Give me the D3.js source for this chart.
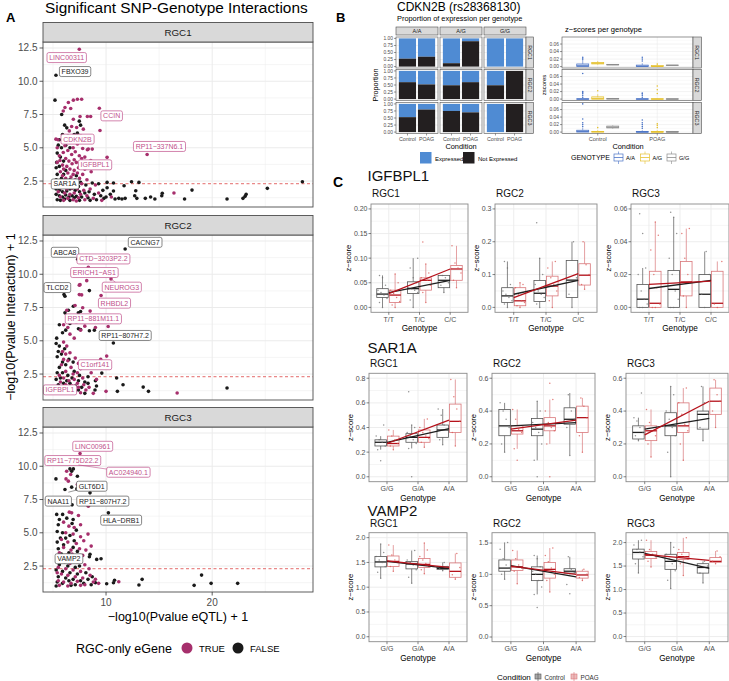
<!DOCTYPE html>
<html><head><meta charset="utf-8">
<script src="https://cdn.jsdelivr.net/npm/d3@7"></script>
<style>body{margin:0;background:#fff}svg{display:block}</style>
</head><body><svg id="fig" width="729" height="681"></svg>
<script>
// ================= DATA =================
// ---- Panel A ----
const aCells = ["RGC1", "RGC2", "RGC3"];
const aXTicks = [10, 20];
const aYTicks = [2.5, 5.0, 7.5, 10.0, 12.5];
const aThreshold = 2.3;
const rgc1True = [[7.48,12.4],[7.3,8.65],[7.7,8.65],[6.45,8.4],[6.92,8.58],[6.13,8.03],[6.67,7.95],[5.97,7.77],[9.37,7.97],[8.24,7.35],[8.55,7.35],[7.55,7.35],[6.92,7.15],[6.76,6.6],[7.23,6.53],[7.86,6.4],[6.54,6.27],[9.43,6.3],[7.61,5.9],[8.2,5.7],[5.28,5.65],[5.47,5.6],[6.86,5.65],[8.18,5.65],[7.3,5.28],[6.13,5.15],[7.8,4.95],[8.33,4.9],[8.24,4.85],[5.97,4.65],[6.76,4.5],[7.48,4.4],[8.0,4.3],[10.1,4.28],[13.87,4.5],[8.56,4.05],[5.66,4.05],[6.2,4.2],[6.5,4.0],[7.0,4.1],[7.2,3.9],[6.8,3.8],[5.9,3.7],[6.3,3.6],[7.6,3.7],[6.0,3.4],[6.6,3.4],[7.0,3.3],[7.4,3.5],[8.0,3.4],[5.7,3.2],[6.4,3.1],[6.9,3.0],[7.3,3.1],[7.8,3.0],[8.6,3.2],[5.9,2.9],[6.2,2.7],[6.7,2.8],[7.1,2.6],[7.5,2.7],[8.2,2.6],[5.6,2.5],[6.0,2.4],[6.5,2.3],[6.9,2.2],[7.7,2.3],[9.0,2.2],[5.8,2.0],[6.3,1.9],[6.8,1.95],[7.3,1.9],[7.9,1.8],[8.5,1.9],[5.5,1.7],[6.1,1.6],[6.6,1.5],[7.0,1.6],[7.6,1.5],[8.2,1.4],[9.3,1.6],[5.7,1.3],[6.4,1.2],[6.9,1.1],[7.4,1.25],[8.0,1.1],[8.8,1.2],[10.5,1.3],[16.4,1.6],[6.0,1.05],[7.2,1.0],[9.6,1.05],[5.4,3.9],[5.6,4.4],[5.4,5.0],[6.1,5.5],[7.1,4.7],[7.7,4.2],[6.4,4.8],[6.9,5.0],[8.7,4.9]];
const rgc1False = [[5.28,10.45],[5.19,8.58],[5.82,7.5],[7.48,7.0],[7.6,6.7],[6.1,6.7],[6.3,6.5],[5.6,5.6],[5.9,6.0],[6.4,5.9],[7.0,6.0],[7.3,6.1],[5.5,5.2],[5.8,5.0],[6.2,5.2],[6.6,5.0],[7.5,5.5],[5.4,4.6],[5.7,4.3],[6.0,4.0],[5.35,3.9],[5.3,3.5],[5.6,3.6],[6.2,3.3],[5.4,3.0],[5.8,2.7],[6.0,3.0],[6.6,2.6],[7.2,2.9],[7.6,2.4],[5.3,2.6],[5.5,2.2],[6.1,2.1],[6.7,2.1],[7.4,2.1],[8.1,2.2],[8.7,2.35],[9.3,2.3],[5.3,1.9],[5.6,1.8],[5.9,1.7],[6.3,1.75],[6.6,1.9],[7.1,1.8],[7.5,1.7],[8.0,1.6],[8.4,1.7],[8.9,1.5],[9.5,1.4],[5.3,1.5],[5.6,1.4],[5.9,1.3],[6.2,1.45],[6.5,1.3],[6.8,1.4],[7.2,1.35],[7.7,1.3],[8.3,1.25],[5.4,1.1],[5.7,1.05],[6.1,1.15],[6.6,1.05],[7.0,1.25],[7.5,1.05],[8.5,1.05],[9.1,1.1],[9.8,1.2],[10.1,2.4],[10.7,2.35],[12.4,2.45],[13.1,2.4],[28.5,2.45],[25.2,1.95],[23.2,1.5],[23.1,1.35],[22.9,1.2],[21.4,1.15],[18.1,1.82],[17.4,1.15],[15.3,1.58],[15.25,1.4],[14.6,1.15],[14.2,1.3],[13.7,1.2],[12.8,1.77],[12.7,1.4],[12.9,1.2],[11.7,2.15],[11.8,1.2],[11.5,1.15],[11.2,1.2],[10.85,1.15],[10.7,1.75],[10.4,1.5],[10.1,2.0],[10.0,1.3],[9.7,1.8]];
const rgc2True = [[8.33,10.53],[10.47,9.65],[8.18,9.52],[7.48,9.18],[7.55,9.22],[9.53,8.4],[7.48,8.47],[7.7,8.45],[7.08,7.65],[7.8,7.48],[8.5,7.23],[6.3,7.3],[10.2,6.07],[9.0,6.0],[8.0,6.1],[6.0,6.2],[6.4,6.0],[7.2,6.4],[7.6,5.8],[6.6,5.5],[7.0,5.2],[10.06,3.85],[9.5,3.6],[6.0,4.9],[6.3,4.6],[5.9,4.2],[6.2,4.0],[6.6,4.1],[7.1,3.7],[6.4,3.5],[7.4,3.3],[5.8,3.2],[6.0,3.6],[6.7,3.0],[7.6,2.9],[8.2,3.1],[6.2,2.7],[6.9,2.5],[7.3,2.6],[5.6,2.4],[6.0,2.2],[6.5,2.0],[7.0,2.1],[7.8,2.2],[8.6,2.6],[5.7,1.9],[6.2,1.7],[6.8,1.6],[7.3,1.8],[7.9,1.7],[8.4,1.5],[9.1,2.1],[5.5,1.4],[6.0,1.3],[6.5,1.2],[7.1,1.25],[7.6,1.1],[8.1,1.3],[8.8,1.05],[10.0,1.2],[16.7,1.08],[5.66,1.5],[6.9,1.45],[7.4,1.5],[9.1,3.2]];
const rgc2False = [[11.8,11.9],[7.33,11.13],[8.43,8.77],[6.04,8.47],[6.13,8.35],[6.92,7.6],[6.45,7.3],[6.13,7.1],[6.76,6.85],[7.39,7.1],[7.6,7.2],[5.6,6.2],[6.6,6.3],[7.4,5.9],[7.6,5.85],[8.43,5.75],[8.9,5.8],[6.2,5.8],[5.9,5.6],[10.69,4.83],[5.3,4.8],[5.6,4.6],[5.5,4.2],[5.8,4.0],[6.1,4.4],[5.4,3.8],[5.9,3.4],[6.5,3.6],[5.6,3.0],[6.2,3.2],[6.9,3.4],[5.4,2.6],[5.9,2.6],[6.4,2.4],[7.0,2.7],[7.5,2.4],[8.3,2.3],[9.6,2.57],[5.3,2.1],[5.7,2.2],[6.3,2.0],[6.8,2.2],[7.4,2.0],[8.0,1.9],[5.5,1.7],[6.0,1.8],[6.6,1.8],[7.1,1.6],[7.7,1.5],[8.3,1.8],[8.96,1.3],[9.1,1.6],[5.4,1.2],[5.8,1.1],[6.3,1.5],[6.8,1.1],[7.4,1.3],[8.0,1.05],[11.0,2.2],[11.6,1.7],[13.5,1.52],[14.0,1.2],[11.07,1.2],[21.4,1.45],[9.0,2.0],[5.35,5.2]];
const rgc3True = [[7.55,10.95],[6.29,9.63],[6.67,9.38],[6.23,9.05],[6.45,8.88],[7.3,8.63],[8.49,7.2],[8.33,7.0],[6.54,6.55],[6.76,6.5],[7.4,6.3],[6.0,5.8],[6.5,5.5],[7.0,5.4],[7.6,5.6],[6.2,5.0],[6.9,4.9],[7.6,4.7],[8.3,4.9],[5.8,4.5],[6.4,4.3],[7.2,4.2],[7.9,4.4],[8.6,4.0],[6.0,3.9],[6.7,3.7],[7.5,3.8],[8.1,3.7],[5.6,3.5],[6.3,3.3],[7.0,3.1],[7.8,3.3],[5.9,2.9],[6.6,2.7],[7.3,2.8],[8.0,2.6],[5.5,2.4],[6.2,2.3],[6.9,2.2],[7.6,2.1],[8.4,2.3],[5.8,1.9],[6.4,1.8],[7.1,1.7],[7.8,1.6],[8.5,1.8],[5.5,1.4],[6.0,1.3],[6.7,1.2],[7.3,1.35],[8.0,1.1],[8.8,1.3],[9.3,1.2],[11.2,1.32],[5.6,1.05],[6.4,1.0],[7.6,1.05],[5.4,2.0],[6.8,3.4],[9.0,1.5]];
const rgc3False = [[6.6,9.8],[6.76,9.63],[6.92,9.8],[7.3,9.25],[5.28,9.05],[6.13,8.25],[6.76,8.43],[8.49,8.0],[7.25,8.3],[6.8,7.1],[10.22,6.5],[5.91,6.38],[5.35,6.38],[5.6,6.0],[6.3,6.1],[6.9,6.0],[5.5,5.6],[6.8,5.7],[7.2,5.2],[5.4,5.1],[5.9,5.0],[6.6,4.8],[5.7,4.6],[6.2,4.6],[7.0,4.4],[5.4,4.3],[6.0,4.1],[6.9,3.9],[5.5,3.8],[5.8,3.4],[6.5,3.5],[7.3,3.6],[8.43,3.2],[8.49,3.38],[9.12,3.0],[9.53,3.05],[5.4,3.0],[6.1,2.8],[6.8,2.9],[7.5,2.5],[5.6,2.6],[6.4,2.5],[7.1,2.4],[8.1,2.0],[5.3,2.2],[5.9,2.1],[6.6,2.0],[7.3,1.9],[8.7,1.7],[5.5,1.7],[6.2,1.6],[6.9,1.5],[7.6,1.4],[8.3,1.5],[5.4,1.3],[5.9,1.2],[6.5,1.4],[7.1,1.1],[7.9,1.2],[8.6,1.1],[9.0,1.25],[10.06,1.17],[10.8,1.43],[10.7,1.25],[13.4,1.5],[13.1,1.08],[18.3,1.05],[19.0,1.82],[19.9,1.2],[22.4,1.2],[5.3,1.0],[6.7,1.05]];
// labels: [text, labelX, labelY, pointX|null, pointY|null, rgcOnly]
const rgc1Labels = [["LINC00311",6.29,11.78,null,null,true],["FBXO39",7.08,10.73,null,null,false],["CCIN",10.53,7.4,null,null,true],["CDKN2B",7.3,5.65,null,null,true],["RP11\u2212337N6.1",15.03,5.1,null,null,true],["IGFBPL1",8.96,3.72,null,null,true],["SAR1A",6.13,2.28,null,null,false]];
const rgc2Labels = [["CACNG7",13.68,12.4,null,null,false],["ABCA8",6.13,11.65,null,null,false],["CTD\u22123203P2.2",9.75,11.15,null,null,true],["ERICH1\u2212AS1",8.9,10.13,8.33,10.6,true],["NEUROG3",11.48,9.03,10.47,9.65,true],["TLCD2",5.41,9.0,null,null,false],["RHBDL2",10.79,7.83,null,null,true],["RP11\u2212881M11.1",8.8,6.65,null,null,true],["RP11\u2212807H7.2",11.8,5.4,null,null,false],["C1orf141",8.96,3.2,null,null,true],["IGFBPL1",5.66,1.31,null,null,true]];
const rgc3Labels = [["LINC00961",8.74,11.5,null,null,true],["RP11\u2212775D22.2",6.86,10.43,null,null,true],["AC024940.1",12.1,9.55,7.4,10.1,true],["GLT6D1",8.65,8.5,6.45,8.05,false],["NAA11",5.5,7.38,null,null,false],["RP11\u2212807H7.2",9.69,7.38,null,null,false],["HLA\u2212DRB1",11.42,5.95,null,null,false],["VAMP2",6.5,3.05,null,null,false]];

// ---- Panel B ----
const bGenotypes = ["A/A", "A/G", "G/G"];
const bConditions = ["Control", "POAG"];
const bCells = ["RGC1", "RGC2", "RGC3"];
// proportion "Not Expressed" [cell][genotype][condition]
const bNotExpressed = [
  [[0.28, 0.35], [0.12, 0.90], [0.0, 0.0]],
  [[0.60, 0.52], [0.49, 0.60], [0.49, 1.0]],
  [[0.53, 0.80], [0.75, 0.70], [0.0, 1.0]]
];
const bPropTicks = [0, 0.25, 0.5, 0.75, 1.0];
const bZTicks = [0, 0.02, 0.04, 0.06];
// z-score boxes [cell][condition][genotype] = [lo, q1, med, q3, hi]
const bZBoxes = [
  [[[0,0,0.002,0.007,0.015],[0.005,0.007,0.009,0.011,0.015],[0.004,0.0045,0.005,0.006,0.0065]],
   [[0,0,0.001,0.004,0.009],[0,0,0.0005,0.003,0.006],[0.003,0.003,0.0035,0.004,0.004]]],
  [[[0,0,0,0.001,0.002],[0,0,0.001,0.006,0.013],[0,0,0.001,0.002,0.003]],
   [[0,0,0,0.001,0.002],[0,0,0,0.001,0.002],[0,0,0,0.001,0.001]]],
  [[[0,0,0.002,0.005,0.012],[0,0,0.001,0.002,0.005],[0.009,0.011,0.013,0.016,0.018]],
   [[0,0,0,0.002,0.005],[0,0,0,0.002,0.005],[0,0,0,0.002,0.003]]]
];
const bZOutliers = [
  [[[0.018,0.022,0.025],[],[]], [[0.015,0.02,0.025],[0.007],[]]],
  [[[0.005,0.01,0.015,0.018,0.02,0.068],[0.022],[]], [[0.005,0.01,0.014,0.016],[0.015,0.025,0.035],[]]],
  [[[0.015,0.02,0.025,0.035,0.075],[0.012],[]], [[0.01,0.015,0.02,0.025,0.032],[0.012,0.018,0.022],[]]]
];

// ---- Panel C ----
const cGenes = ["IGFBPL1", "SAR1A", "VAMP2"];
const cCells = ["RGC1", "RGC2", "RGC3"];
const cGenotypes = [["T/T","T/C","C/C"], ["G/G","G/A","A/A"], ["G/G","G/A","A/A"]];
const cYTicks = [
  [[0,0.05,0.10,0.15,0.20],[0,0.1,0.2,0.3],[0,0.02,0.04,0.06]],
  [[0,0.2,0.4,0.6,0.8],[0,0.2,0.4,0.6],[0,0.2,0.4,0.6]],
  [[0,0.5,1.0,1.5,2.0],[0,0.5,1.0,1.5],[0,0.5,1.0,1.5,2.0]]
];
const cYFormat = [[".2f",".1f",".2f"],[".1f",".1f",".1f"],[".1f",".1f",".1f"]];
// box stats [cell][genotype] = [lo, q1, med, q3, hi]
const igfbpl1Control = [
  [[0,0.02,0.027,0.038,0.065],[0,0.028,0.038,0.052,0.10],[0.03,0.04,0.055,0.065,0.065]],
  [[0,0.015,0.035,0.06,0.14],[0,0.018,0.043,0.082,0.15],[0,0.03,0.083,0.143,0.2]],
  [[0,0,0.005,0.014,0.024],[0,0,0.011,0.0225,0.055],[0,0,0.008,0.02,0.034]]
];
const igfbpl1POAG = [
  [[0,0.01,0.025,0.035,0.068],[0.01,0.035,0.055,0.06,0.088],[0.04,0.055,0.078,0.085,0.125]],
  [[0,0.005,0.02,0.06,0.075],[0,0.035,0.065,0.095,0.14],[0.055,0.068,0.098,0.133,0.2]],
  [[0,0,0.0025,0.022,0.052],[0,0.007,0.0155,0.028,0.048],[0,0,0.0025,0.022,0.028]]
];
const sar1aControl = [
  [[0.22,0.25,0.28,0.30,0.33],[0.23,0.28,0.32,0.35,0.42],[0.26,0.32,0.38,0.42,0.55]],
  [[0.15,0.25,0.31,0.41,0.45],[0.1,0.25,0.29,0.355,0.46],[0.13,0.32,0.35,0.42,0.51]],
  [[0.22,0.23,0.27,0.31,0.36],[0.0,0.25,0.31,0.39,0.55],[0.22,0.29,0.38,0.40,0.55]]
];
const sar1aPOAG = [
  [[0.22,0.25,0.27,0.33,0.38],[0.24,0.28,0.32,0.38,0.47],[0.25,0.36,0.45,0.59,0.79]],
  [[0.17,0.26,0.28,0.31,0.41],[0.2,0.28,0.31,0.36,0.47],[0.15,0.27,0.36,0.43,0.48]],
  [[0.12,0.22,0.28,0.31,0.41],[0.1,0.27,0.31,0.45,0.54],[0.30,0.38,0.46,0.54,0.59]]
];
const vamp2Control = [
  [[1.18,1.41,1.51,1.62,1.87],[1.08,1.37,1.47,1.52,1.74],[1.33,1.36,1.38,1.42,1.5]],
  [[0.92,1.05,1.1,1.23,1.51],[0.68,0.9,1.0,1.12,1.3],[1.0,1.02,1.05,1.09,1.28]],
  [[1.35,1.65,1.79,1.86,2.05],[1.02,1.43,1.6,1.75,2.0],[1.14,1.35,1.47,1.55,1.6]]
];
const vamp2POAG = [
  [[1.32,1.42,1.52,1.63,1.85],[1.27,1.4,1.46,1.58,1.89],[1.16,1.2,1.32,1.49,1.68]],
  [[0.85,1.06,1.12,1.23,1.38],[0.72,0.94,1.08,1.19,1.42],[0.9,0.94,0.99,1.05,1.08]],
  [[1.48,1.66,1.73,1.81,2.05],[1.3,1.64,1.7,1.79,2.1],[1.55,1.58,1.6,1.68,1.82]]
];
// individual cells [cell][genotype] = values
const igfbpl1ControlPts = [
  [[0,0.01,0.018,0.025,0.03,0.035,0.045,0.06,0.065],[0,0.015,0.03,0.035,0.038,0.04,0.05,0.06,0.08,0.1],[0.03,0.045,0.05,0.06,0.065]],
  [[0,0.01,0.02,0.03,0.04,0.05,0.07,0.12,0.14],[0,0.01,0.03,0.04,0.05,0.07,0.1,0.15,0.258],[0,0.04,0.09,0.2]],
  [[0,0,0.002,0.005,0.01,0.02,0.024,0.045,0.057],[0,0,0.005,0.01,0.02,0.03,0.045,0.055,0.058],[0,0.008,0.02,0.034]]
];
const igfbpl1POAGPts = [
  [[0,0.005,0.012,0.02,0.028,0.035,0.05,0.068],[0.01,0.03,0.045,0.055,0.057,0.06,0.07,0.088,0.133],[0.04,0.055,0.07,0.08,0.09,0.125]],
  [[0,0.005,0.015,0.02,0.04,0.06,0.07,0.075],[0,0.02,0.05,0.07,0.09,0.12,0.14],[0.055,0.07,0.1,0.13,0.2]],
  [[0,0,0.002,0.012,0.02,0.035,0.044,0.052],[0,0.007,0.015,0.02,0.03,0.045,0.048],[0,0.002,0.028]]
];
const sar1aControlPts = [
  [[0.13,0.22,0.25,0.28,0.3,0.33,0.42],[0,0.23,0.27,0.3,0.33,0.36,0.4,0.42,0.69],[0.26,0.3,0.38,0.42,0.5,0.55]],
  [[0.15,0.2,0.3,0.35,0.4,0.45],[0,0.1,0.2,0.27,0.3,0.33,0.4,0.46],[0.13,0.3,0.35,0.4,0.5]],
  [[0.22,0.25,0.27,0.3,0.34,0.36,0.51],[0,0.15,0.25,0.3,0.35,0.4,0.5,0.55],[0.22,0.3,0.38,0.45,0.55]]
];
const sar1aPOAGPts = [
  [[0.22,0.25,0.27,0.3,0.33,0.38],[0.24,0.28,0.31,0.33,0.36,0.4,0.47],[0.25,0.36,0.45,0.55,0.65,0.79]],
  [[0.1,0.17,0.27,0.29,0.35,0.41],[0,0.2,0.28,0.3,0.33,0.4,0.47,0.57],[0.15,0.25,0.36,0.43,0.48]],
  [[0.12,0.2,0.25,0.28,0.33,0.41],[0.1,0.2,0.28,0.32,0.38,0.45,0.54],[0.3,0.4,0.46,0.5,0.59]]
];
const vamp2ControlPts = [
  [[1.18,1.3,1.42,1.5,1.55,1.62,1.7,1.87],[1.08,1.2,1.35,1.45,1.5,1.55,1.74],[1.33,1.38,1.42,1.5]],
  [[0.92,1.0,1.1,1.15,1.25,1.4,1.51],[0.47,0.68,0.8,0.9,1.0,1.05,1.12,1.25,1.3],[0.69,0.84,1.03,1.08,1.28]],
  [[1.35,1.55,1.7,1.8,1.85,1.95,2.05],[1.02,1.2,1.4,1.55,1.65,1.75,1.9,2.0],[1.14,1.35,1.5,1.6]]
];
const vamp2POAGPts = [
  [[1.32,1.42,1.5,1.55,1.65,1.85],[1.27,1.35,1.42,1.48,1.55,1.62,1.75,1.89],[1.16,1.25,1.4,1.68]],
  [[0.85,1.05,1.1,1.15,1.25,1.38],[0.72,0.9,1.0,1.1,1.2,1.3,1.42],[0.9,0.95,1.0,1.08]],
  [[1.48,1.6,1.7,1.75,1.85,2.05],[1.3,1.55,1.65,1.7,1.75,1.85,2.1],[1.55,1.6,1.7,1.82]]
];
// linear fits [cell] = [control@first, control@last, POAG@first, POAG@last]
const igfbpl1Fits = [[0.03,0.055,0.028,0.078],[0.04,0.082,0.03,0.103],[0.0115,0.0165,0.014,0.016]];
const sar1aFits = [[0.28,0.39,0.27,0.46],[0.31,0.33,0.29,0.345],[0.29,0.355,0.255,0.46]];
const vamp2Fits = [[1.52,1.38,1.53,1.40],[1.14,0.96,1.13,1.0],[1.77,1.45,1.75,1.62]];

// ================= DRAWING =================
const F = "'Liberation Sans', Arial, Helvetica, sans-serif";
const svg = d3.select("#fig");
svg.append("rect").attr("width",729).attr("height",681).attr("fill","#fff");
function txt(g, x, y, s, size, o = {}) {
  const t = g.append("text").attr("x", x).attr("y", y).text(s)
    .attr("font-size", size).attr("font-family", F).attr("fill", o.fill || "#000");
  if (o.anchor) t.attr("text-anchor", o.anchor);
  if (o.weight) t.attr("font-weight", o.weight);
  if (o.rotate != null) t.attr("transform", `rotate(${o.rotate},${x},${y})`);
  return t;
}
function hline(g, x1, x2, y, c, w, dash) {
  const l = g.append("line").attr("x1", x1).attr("x2", x2).attr("y1", y).attr("y2", y).attr("stroke", c).attr("stroke-width", w);
  if (dash) l.attr("stroke-dasharray", dash);
  return l;
}
function vline(g, x, y1, y2, c, w) {
  return g.append("line").attr("x1", x).attr("x2", x).attr("y1", y1).attr("y2", y2).attr("stroke", c).attr("stroke-width", w);
}
const GRID = "#ebebeb", BORDER = "#4d4d4d", TICKC = "#4d4d4d";
const PINK = "#a62f6c", PINKL = "#c0508b", DARK = "#1a1a1a";

// ---------- Panel A ----------
txt(svg, 6, 22, "A", 13, { weight: "bold" });
txt(svg, 45, 12.5, "Significant SNP-Genotype Interactions", 15.4);
const aX = d3.scaleLinear().domain([4.06, 29.5]).range([43, 313]);
const aTops = [42, 235, 427], aH = 165;
const aTrue = [rgc1True, rgc2True, rgc3True], aFalse = [rgc1False, rgc2False, rgc3False];
const aLabels = [rgc1Labels, rgc2Labels, rgc3Labels];
aCells.forEach((cell, i) => {
  const top = aTops[i], bot = top + aH;
  const y = d3.scaleLinear().domain([0.55, 12.95]).range([bot, top]);
  const g = svg.append("g");
  const minorY = [1.25, 3.75, 6.25, 8.75, 11.25], minorX = [5, 15, 25];
  minorY.forEach(v => hline(g, 43, 313, y(v), GRID, 0.5));
  minorX.forEach(v => vline(g, aX(v), top, bot, GRID, 0.5));
  aYTicks.forEach(v => hline(g, 43, 313, y(v), GRID, 1));
  aXTicks.forEach(v => vline(g, aX(v), top, bot, GRID, 1));
  hline(g, 43, 313, y(aThreshold), "#e05a5a", 0.9, "3,2.5");
  const clip = "clipA" + i;
  g.append("clipPath").attr("id", clip).append("rect").attr("x", 43).attr("y", top).attr("width", 270).attr("height", aH);
  const pg = g.append("g").attr("clip-path", `url(#${clip})`);
  pg.selectAll("circle.f").data(aFalse[i]).enter().append("circle")
    .attr("cx", d => aX(d[0])).attr("cy", d => y(d[1])).attr("r", 1.8).attr("fill", DARK);
  pg.selectAll("circle.t").data(aTrue[i]).enter().append("circle")
    .attr("cx", d => aX(d[0])).attr("cy", d => y(d[1])).attr("r", 1.8).attr("fill", PINK);
  aLabels[i].forEach(L => {
    const [s, lx, ly, px, py, tr] = L;
    const col = tr ? PINKL : "#222", bcol = tr ? PINKL : "#555";
    if (px != null) g.append("line").attr("x1", aX(px)).attr("y1", y(py)).attr("x2", aX(lx)).attr("y2", y(ly)).attr("stroke", bcol).attr("stroke-width", 0.6);
    const lg = g.append("g");
    const t = txt(lg, aX(lx), y(ly) + 2.5, s, 7, { anchor: "middle", fill: col });
    const bb = t.node().getBBox();
    lg.insert("rect", "text").attr("x", bb.x - 2.2).attr("y", y(ly) - 5).attr("width", bb.width + 4.4).attr("height", 10)
      .attr("rx", 1.8).attr("fill", "#fff").attr("stroke", bcol).attr("stroke-width", 0.7);
  });
  g.append("rect").attr("x", 43).attr("y", top).attr("width", 270).attr("height", aH).attr("fill", "none").attr("stroke", BORDER).attr("stroke-width", 0.9);
  g.append("rect").attr("x", 43).attr("y", top - 19.5).attr("width", 270).attr("height", 19.5).attr("fill", "#d9d9d9").attr("stroke", BORDER).attr("stroke-width", 0.9);
  txt(g, 178, top - 6, cell, 9.8, { anchor: "middle", fill: "#1a1a1a" });
  aYTicks.forEach(v => {
    hline(g, 39.5, 43, y(v), "#333", 0.8);
    txt(g, 37.5, y(v) + 3.5, d3.format(".1f")(v), 10, { anchor: "end", fill: TICKC });
  });
  if (i === 2) {
    aXTicks.forEach(v => {
      vline(g, aX(v), bot, bot + 3.5, "#333", 0.8);
      txt(g, aX(v), bot + 14, String(v), 10, { anchor: "middle", fill: TICKC });
    });
  }
});
txt(svg, 178, 621, "\u2212log10(Pvalue eQTL) + 1", 12.5, { anchor: "middle" });
svg.append("text").attr("transform", "translate(15,317) rotate(-90)").attr("text-anchor", "middle")
  .attr("font-family", F).attr("font-size", 12.5).text("\u2212log10(Pvalue Interaction) + 1");
txt(svg, 76, 652.5, "RGC-only eGene", 12.5);
svg.append("circle").attr("cx", 187).attr("cy", 648).attr("r", 5.5).attr("fill", PINK);
txt(svg, 199, 651.5, "TRUE", 9.5);
svg.append("circle").attr("cx", 238).attr("cy", 648).attr("r", 5.5).attr("fill", DARK);
txt(svg, 250, 651.5, "FALSE", 9.5);

// ---------- Panel B ----------
txt(svg, 336, 22, "B", 13, { weight: "bold" });
txt(svg, 397, 10.5, "CDKN2B (rs28368130)", 12);
txt(svg, 397, 20.5, "Proportion of expression per genotype", 7.4);
txt(svg, 565, 32, "z\u2212scores per genotype", 7.6);
const BLUE = "#4f8bd3", BLK = "#231f20";
const bCols = [396, 440, 484], bColW = 42, bRowTops = [37, 69.5, 102.5], bRowH = 31;
bCells.forEach((cell, r) => {
  const top = bRowTops[r], bot = top + bRowH;
  const y = d3.scaleLinear().domain([-0.05, 1.05]).range([bot, top]);
  bGenotypes.forEach((gt, c) => {
    const g = svg.append("g");
    const x = d3.scalePoint().domain(bConditions).range([bCols[c], bCols[c] + bColW]).padding(0.6);
    const bw = x.step() * 0.9;
    bPropTicks.forEach(v => hline(g, bCols[c], bCols[c] + bColW, y(v), GRID, 0.6));
    bConditions.forEach((cond, k) => {
      const ne = bNotExpressed[r][c][k];
      g.append("rect").attr("x", x(cond) - bw / 2).attr("width", bw).attr("y", y(1)).attr("height", y(ne) - y(1)).attr("fill", BLUE);
      if (ne > 0) g.append("rect").attr("x", x(cond) - bw / 2).attr("width", bw).attr("y", y(ne)).attr("height", y(0) - y(ne)).attr("fill", BLK);
    });
    g.append("rect").attr("x", bCols[c]).attr("y", top).attr("width", bColW).attr("height", bRowH).attr("fill", "none").attr("stroke", BORDER).attr("stroke-width", 0.6);
    if (r === 0) {
      g.append("rect").attr("x", bCols[c]).attr("y", 27).attr("width", bColW).attr("height", 8).attr("fill", "#d9d9d9").attr("stroke", BORDER).attr("stroke-width", 0.6);
      txt(g, bCols[c] + bColW / 2, 33.2, gt, 5.5, { anchor: "middle", fill: "#1a1a1a" });
    }
    if (c === 2) {
      g.append("rect").attr("x", bCols[c] + bColW).attr("y", top).attr("width", 7.5).attr("height", bRowH).attr("fill", "#d9d9d9").attr("stroke", BORDER).attr("stroke-width", 0.6);
      txt(g, bCols[c] + bColW + 2, top + bRowH / 2, cell, 5.3, { anchor: "middle", rotate: 90, fill: "#1a1a1a" });
    }
    if (c === 0) bPropTicks.forEach(v => {
      hline(g, bCols[c] - 2, bCols[c], y(v), "#333", 0.5);
      txt(g, bCols[c] - 3, y(v) + 1.7, d3.format(".2f")(v), 4.9, { anchor: "end", fill: TICKC });
    });
    if (r === 2) bConditions.forEach(cond => {
      vline(g, x(cond), bot, bot + 2, "#333", 0.5);
      txt(g, x(cond), bot + 7.5, cond, 5.3, { anchor: "middle", fill: TICKC });
    });
  });
});
txt(svg, 461, 148.5, "Condition", 7.4, { anchor: "middle" });
svg.append("text").attr("transform", "translate(377.5,85) rotate(-90)").attr("text-anchor", "middle").attr("font-family", F).attr("font-size", 7.2).text("Proportion");
svg.append("rect").attr("x", 420).attr("y", 152).attr("width", 11.5).attr("height", 11.5).attr("fill", BLUE);
txt(svg, 435, 160.5, "Expressed", 6);
svg.append("rect").attr("x", 463).attr("y", 152).attr("width", 11.5).attr("height", 11.5).attr("fill", BLK);
txt(svg, 478, 160.5, "Not Expressed", 6);

// z-score panel
const GCOL = ["#4b74c6", "#e5c12f", "#8c8c8c"];
const zL = 562, zR = 693;
const zx = d3.scalePoint().domain(bConditions).range([zL, zR]).padding(0.6);
const dodge = [-15, 0, 15], zbw = 12;
bCells.forEach((cell, r) => {
  const top = bRowTops[r], bot = top + bRowH;
  const y = d3.scaleLinear().domain([-0.00375, 0.07875]).range([bot, top]);
  const g = svg.append("g");
  [0.01, 0.03, 0.05, 0.07].forEach(v => hline(g, zL, zR, y(v), GRID, 0.3));
  bZTicks.forEach(v => hline(g, zL, zR, y(v), GRID, 0.6));
  bConditions.forEach(cond => vline(g, zx(cond), top, bot, GRID, 0.6));
  bConditions.forEach((cond, k) => {
    bGenotypes.forEach((gt, j) => {
      const [lo, q1, md, q3, hi] = bZBoxes[r][k][j];
      const cx = zx(cond) + dodge[j], col = GCOL[j];
      vline(g, cx, y(hi), y(q3), col, 0.6);
      vline(g, cx, y(q1), y(lo), col, 0.6);
      g.append("rect").attr("x", cx - zbw / 2).attr("width", zbw).attr("y", y(q3)).attr("height", Math.max(0.5, y(q1) - y(q3)))
        .attr("fill", col).attr("fill-opacity", 0.25).attr("stroke", col).attr("stroke-width", 0.7);
      hline(g, cx - zbw / 2, cx + zbw / 2, y(md), col, 1.1);
      bZOutliers[r][k][j].forEach(v => g.append("circle").attr("cx", cx).attr("cy", y(v)).attr("r", 0.8).attr("fill", col));
    });
  });
  g.append("rect").attr("x", zL).attr("y", top).attr("width", zR - zL).attr("height", bRowH).attr("fill", "none").attr("stroke", BORDER).attr("stroke-width", 0.6);
  g.append("rect").attr("x", zR).attr("y", top).attr("width", 8.5).attr("height", bRowH).attr("fill", "#d9d9d9").attr("stroke", BORDER).attr("stroke-width", 0.6);
  txt(g, zR + 2.4, top + bRowH / 2, cell, 5.3, { anchor: "middle", rotate: 90, fill: "#1a1a1a" });
  bZTicks.forEach(v => {
    hline(g, zL - 2, zL, y(v), "#333", 0.5);
    txt(g, zL - 3, y(v) + 1.7, d3.format(".2f")(v), 4.9, { anchor: "end", fill: TICKC });
  });
  if (r === 2) bConditions.forEach(cond => {
    vline(g, zx(cond), bot, bot + 2, "#333", 0.5);
    txt(g, zx(cond), bot + 7.5, cond, 5.6, { anchor: "middle", fill: TICKC });
  });
});
txt(svg, 628, 148.5, "Condition", 7.4, { anchor: "middle" });
svg.append("text").attr("transform", "translate(546,85) rotate(-90)").attr("text-anchor", "middle").attr("font-family", F).attr("font-size", 6).text("zscores");
txt(svg, 571, 160, "GENOTYPE", 7);
bGenotypes.forEach((gt, j) => {
  const lx = 614 + j * 26.5, col = GCOL[j];
  vline(svg, lx + 4.5, 151.5, 164, col, 0.6);
  svg.append("rect").attr("x", lx).attr("y", 154).attr("width", 9).attr("height", 7).attr("fill", "#fff").attr("stroke", col).attr("stroke-width", 0.7);
  hline(svg, lx, lx + 9, 157.5, col, 0.8);
  txt(svg, lx + 12, 160, gt, 5.6);
});

// ---------- Panel C ----------
txt(svg, 333, 187, "C", 14, { weight: "bold" });
const cRowY = [[204, 312.3], [373.3, 481.7], [532.7, 641.7]];
const cColX = [[[371, 468], [495, 597], [631, 729]], [[369, 467], [492, 595], [626, 728]], [[369, 467], [492, 595], [626, 728]]];
const cYDomain = [[[-0.01, 0.21], [-0.015, 0.315], [-0.003, 0.063]], [[-0.04, 0.84], [-0.03, 0.63], [-0.03, 0.63]], [[-0.1, 2.1], [-0.075, 1.665], [-0.11, 2.21]]];
const cGeneBase = [180.5, 352.5, 516];
const cSubBase = [197.3, 367.3, 527.3];
const cCtrl = [igfbpl1Control, sar1aControl, vamp2Control];
const cPoag = [igfbpl1POAG, sar1aPOAG, vamp2POAG];
const cCtrlPts = [igfbpl1ControlPts, sar1aControlPts, vamp2ControlPts];
const cPoagPts = [igfbpl1POAGPts, sar1aPOAGPts, vamp2POAGPts];
const cFits = [igfbpl1Fits, sar1aFits, vamp2Fits];
const CTRL = "#555555", CTRLD = "#1f1f1f", POAGC = "#d9777a", POAGD = "#b5121b";
cGenes.forEach((gene, gi) => {
  txt(svg, 367.5, cGeneBase[gi], gene, 15, { fill: "#111" });
  const [top, bot] = cRowY[gi];
  cCells.forEach((cell, ci) => {
    const [L, R] = cColX[gi][ci];
    const g = svg.append("g");
    const y = d3.scaleLinear().domain(cYDomain[gi][ci]).range([bot, top]);
    const x = d3.scalePoint().domain(cGenotypes[gi]).range([L, R]).padding(0.58);
    const ticks = cYTicks[gi][ci];
    for (let k = 0; k < ticks.length - 1; k++) hline(g, L, R, y((ticks[k] + ticks[k + 1]) / 2), GRID, 0.5);
    const dt = ticks[1] - ticks[0];
    if (y(ticks[ticks.length - 1] + dt / 2) > top) hline(g, L, R, y(ticks[ticks.length - 1] + dt / 2), GRID, 0.5);
    ticks.forEach(v => hline(g, L, R, y(v), GRID, 0.9));
    cGenotypes[gi].forEach(gt => vline(g, x(gt), top, bot, GRID, 0.9));
    const off = 6.3, bw = 11.5;
    [[cCtrl, cCtrlPts, -off, CTRL, CTRLD, "#6e6e6e"], [cPoag, cPoagPts, off, POAGC, POAGD, "#d9534f"]].forEach(([B, P, o, sc, mc, pc]) => {
      cGenotypes[gi].forEach((gt, j) => {
        const [lo, q1, md, q3, hi] = B[gi][ci][j];
        const cx = x(gt) + o;
        vline(g, cx, y(hi), y(q3), sc, 0.7);
        vline(g, cx, y(q1), y(lo), sc, 0.7);
        g.append("rect").attr("x", cx - bw / 2).attr("width", bw).attr("y", y(q3)).attr("height", Math.max(0.5, y(q1) - y(q3)))
          .attr("fill", "none").attr("stroke", sc).attr("stroke-width", 0.8);
        hline(g, cx - bw / 2, cx + bw / 2, y(md), mc, 1.3);
        P[gi][ci][j].forEach((v, k) => {
          const jx = (((k * 5 + 3) % 7) / 6 - 0.5) * 9;
          g.append("circle").attr("cx", cx + jx).attr("cy", y(v)).attr("r", 0.75).attr("fill", pc).attr("fill-opacity", 0.75);
        });
      });
    });
    const fit = cFits[gi][ci], gts = cGenotypes[gi];
    g.append("line").attr("x1", x(gts[0])).attr("x2", x(gts[2])).attr("y1", y(fit[0])).attr("y2", y(fit[1])).attr("stroke", CTRLD).attr("stroke-width", 1.3);
    g.append("line").attr("x1", x(gts[0])).attr("x2", x(gts[2])).attr("y1", y(fit[2])).attr("y2", y(fit[3])).attr("stroke", POAGD).attr("stroke-width", 1.3);
    g.append("rect").attr("x", L).attr("y", top).attr("width", R - L).attr("height", bot - top).attr("fill", "none").attr("stroke", "#8a8a8a").attr("stroke-width", 0.9);
    let minX = L;
    ticks.forEach(v => {
      hline(g, L - 2.5, L, y(v), "#333", 0.6);
      const t = txt(g, L - 3.5, y(v) + 2.4, d3.format(cYFormat[gi][ci])(v), 7, { anchor: "end", fill: TICKC });
      minX = Math.min(minX, t.node().getBBox().x);
    });
    gts.forEach(gt => {
      vline(g, x(gt), bot, bot + 2.5, "#333", 0.6);
      txt(g, x(gt), bot + 9.5, gt, 7, { anchor: "middle", fill: TICKC });
    });
    txt(g, (L + R) / 2, bot + 19, "Genotype", 8.2, { anchor: "middle" });
    g.append("text").attr("transform", `translate(${minX - 3},${(top + bot) / 2}) rotate(-90)`).attr("text-anchor", "middle")
      .attr("font-family", F).attr("font-size", 7.6).text("z\u2212score");
    txt(g, L + 1, cSubBase[gi], cell, 10, { fill: "#111" });
  });
});
// Condition legend
txt(svg, 497, 680, "Condition", 8);
[["Control", CTRL, 535, 544.5], ["POAG", POAGC, 571, 580.5]].forEach(([s, c, ix, tx]) => {
  vline(svg, ix + 3, 672, 681, c, 0.6);
  svg.append("rect").attr("x", ix).attr("y", 674).attr("width", 6).attr("height", 5).attr("fill", c).attr("fill-opacity", 0.5).attr("stroke", c).attr("stroke-width", 0.6);
  txt(svg, tx, 679.5, s, 6.3, { fill: "#333" });
});
</script>
</body></html>
